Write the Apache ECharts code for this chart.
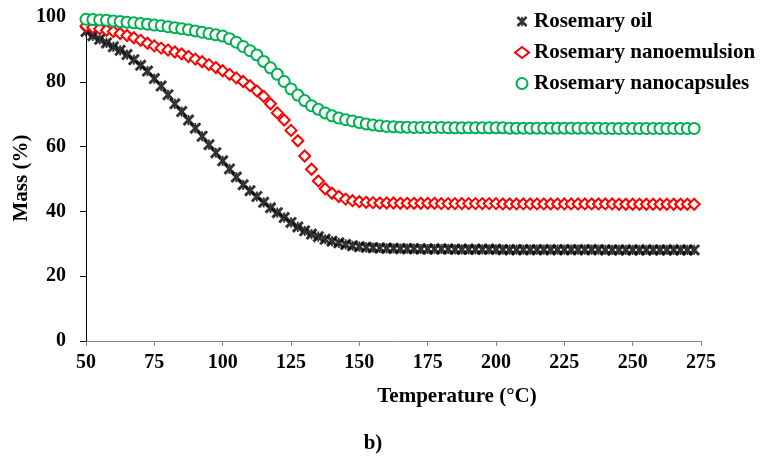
<!DOCTYPE html>
<html>
<head>
<meta charset="utf-8">
<script src="https://cdn.jsdelivr.net/npm/echarts@6/dist/echarts.min.js"></script>
<style>html,body{margin:0;padding:0;background:#fff}#c{width:760px;height:458px}</style>
</head>
<body>
<div id="c"></div>
<script>
var temps = [50,52.5,55,57.5,60,62.5,65,67.5,70,72.5,75,77.5,80,82.5,85,87.5,90,92.5,95,97.5,
100,102.5,105,107.5,110,112.5,115,117.5,120,122.5,125,127.5,130,132.5,135,137.5,140,142.5,145,147.5,
150,152.5,155,157.5,160,162.5,165,167.5,170,172.5,175,177.5,180,182.5,185,187.5,190,192.5,195,197.5,
200,202.5,205,207.5,210,212.5,215,217.5,220,222.5,225,227.5,230,232.5,235,237.5,240,242.5,245,247.5,
250,252.5,255,257.5,260,262.5,265,267.5,270,272.5];

var oil = [95.5,94.2,93.1,92.0,90.8,89.7,88.4,86.8,85.1,83.3,
81.0,78.7,76.0,73.2,70.8,68.2,65.7,63.2,60.6,58.1,
55.6,53.1,50.6,48.2,46.4,44.6,42.8,41.1,39.6,38.1,
36.6,35.2,34.0,33.0,32.2,31.4,30.8,30.3,29.8,29.4,
29.1,28.9,28.8,28.7,28.6,28.6,28.5,28.5,28.5,28.4,
28.4,28.4,28.4,28.4,28.3,28.3,28.3,28.3,28.3,28.3,
28.3,28.2,28.2,28.2,28.2,28.2,28.2,28.2,28.2,28.2,
28.2,28.2,28.2,28.2,28.2,28.2,28.1,28.1,28.1,28.1,
28.1,28.1,28.1,28.1,28.1,28.1,28.1,28.1,28.1,28.1];

var nanoemulsion = [97.2,96.8,96.4,95.9,95.5,94.9,94.3,93.6,92.8,91.9,
91.1,90.4,89.8,89.2,88.6,87.8,87.0,86.2,85.3,84.4,
83.4,82.3,81.2,80.1,78.8,77.2,75.5,73.2,70.4,68.2,
65.0,61.8,57.1,53.0,49.4,47.0,45.6,44.6,43.8,43.3,
43.0,42.8,42.7,42.6,42.6,42.6,42.5,42.5,42.5,42.5,
42.5,42.5,42.4,42.4,42.4,42.4,42.4,42.4,42.4,42.4,
42.4,42.3,42.3,42.3,42.3,42.3,42.3,42.3,42.3,42.3,
42.3,42.3,42.3,42.3,42.3,42.3,42.3,42.3,42.2,42.2,
42.2,42.2,42.2,42.2,42.2,42.2,42.2,42.2,42.2,42.2];

var nanocapsules = [99.3,99.2,99.1,99.0,98.8,98.6,98.4,98.2,98.0,97.8,
97.5,97.3,97.0,96.7,96.4,96.1,95.7,95.3,94.9,94.5,
94.1,93.3,92.2,90.9,89.6,88.3,86.3,84.3,82.3,80.1,
77.8,75.9,74.2,72.6,71.5,70.4,69.5,68.8,68.3,67.9,
67.4,67.0,66.7,66.4,66.2,66.1,66.0,66.0,65.9,65.9,
65.9,65.9,65.9,65.8,65.8,65.8,65.8,65.8,65.8,65.8,
65.8,65.8,65.7,65.7,65.7,65.7,65.7,65.7,65.7,65.7,
65.7,65.7,65.7,65.7,65.7,65.7,65.6,65.6,65.6,65.6,
65.6,65.6,65.6,65.6,65.6,65.6,65.6,65.6,65.6,65.6];

var seriesNames = ['Rosemary oil', 'Rosemary nanoemulsion', 'Rosemary nanocapsules'];
var xTicks = [50,75,100,125,150,175,200,225,250,275];
var yTicks = [0,20,40,60,80,100];

function pairs(ys){ return temps.map(function(t,i){ return [t, ys[i]]; }); }

var FONT = '"Liberation Serif", "Times New Roman", serif';
var star = 'path://M0,3.5L3.5,0L20,16.5L16.5,20ZM16.5,0L20,3.5L3.5,20L0,16.5ZM8.5,1.5L11.5,1.5L11.5,18.5L8.5,18.5Z';

var chart = echarts.init(document.getElementById('c'), null, {renderer:'canvas'});
chart.setOption({
  animation: false,
  backgroundColor: '#fff',
  grid: {left: 86, right: 59, top: 17, bottom: 117},
  legend: {
    orient: 'vertical', left: 509, top: 6,
    itemWidth: 14, itemHeight: 11, itemGap: 10,
    textStyle: {fontFamily: FONT, fontWeight: 'bold', fontSize: 21, color: '#000', lineHeight: 21},
    data: seriesNames
  },
  xAxis: {
    type: 'value', min: xTicks[0], max: xTicks[xTicks.length-1], interval: 25,
    axisLine: {lineStyle: {color: '#868686', width: 1}},
    axisTick: {inside: false, length: 5, lineStyle: {color: '#868686'}},
    axisLabel: {margin: 12, fontFamily: FONT, fontWeight: 'bold', fontSize: 20, color: '#000'},
    splitLine: {show: false}
  },
  yAxis: {
    type: 'value', min: yTicks[0], max: yTicks[yTicks.length-1], interval: 20,
    axisLine: {show: true, lineStyle: {color: '#000', width: 1}},
    axisTick: {show: true, inside: false, length: 6, lineStyle: {color: '#000'}},
    axisLabel: {margin: 20, fontFamily: FONT, fontWeight: 'bold', fontSize: 20, color: '#000'},
    splitLine: {show: false}
  },
  graphic: [
    {type: 'text', x: 22, y: 178, rotation: Math.PI/2,
     style: {text: 'Mass (%)', fill: '#000', font: 'bold 21px ' + FONT, align: 'center', verticalAlign: 'middle'}},
    {type: 'text', x: 457, y: 397,
     style: {text: 'Temperature (°C)', fill: '#000', font: 'bold 21px ' + FONT, align: 'center', verticalAlign: 'middle'}},
    {type: 'text', x: 373, y: 444,
     style: {text: 'b)', fill: '#000', font: 'bold 21px ' + FONT, align: 'center', verticalAlign: 'middle'}}
  ],
  series: [
    {name: seriesNames[0], type: 'scatter', data: pairs(oil), symbol: star, symbolSize: 12,
     itemStyle: {color: '#000'}},
    {name: seriesNames[1], type: 'scatter', data: pairs(nanoemulsion), symbol: 'diamond', symbolSize: 11,
     itemStyle: {color: '#fff', borderColor: '#ff0000', borderWidth: 2, opacity: 1}},
    {name: seriesNames[2], type: 'scatter', data: pairs(nanocapsules), symbol: 'circle', symbolSize: 11,
     itemStyle: {color: '#fff', borderColor: '#00b050', borderWidth: 2, opacity: 1}}
  ]
});
</script>
</body>
</html>
